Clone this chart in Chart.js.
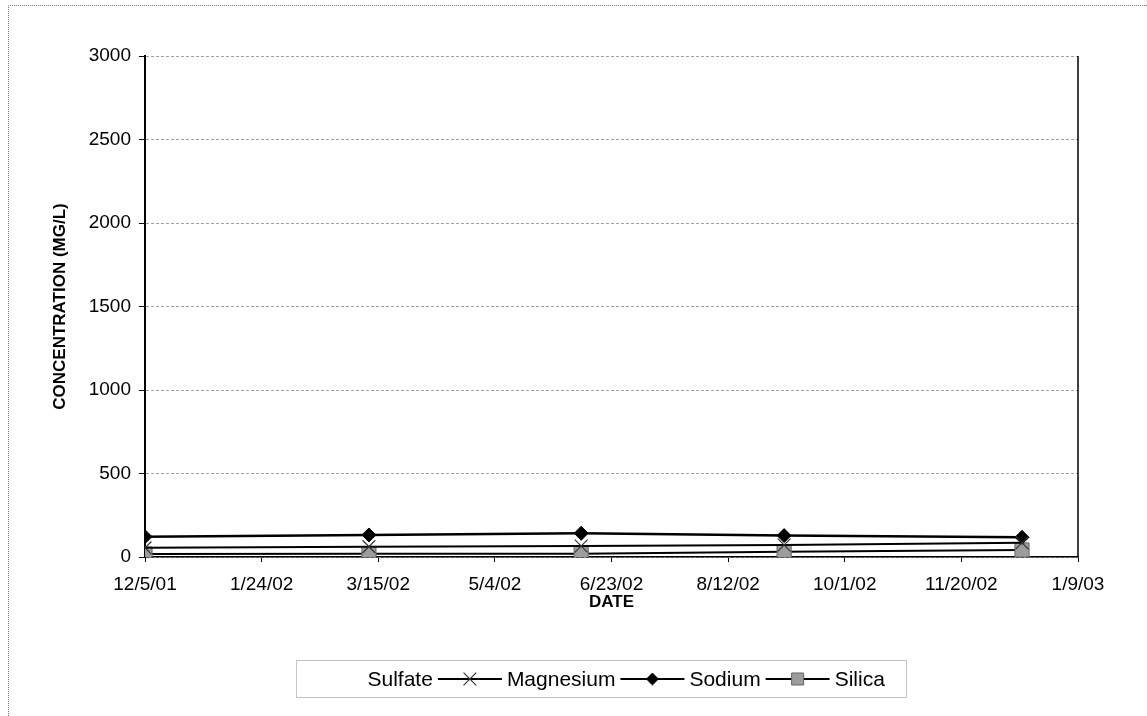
<!doctype html>
<html lang="en">
<head>
<meta charset="utf-8">
<title>Concentration vs Date</title>
<script src="https://cdn.jsdelivr.net/npm/chart.js@4.4.1/dist/chart.umd.min.js"></script>
<style>
  html, body { margin: 0; padding: 0; background: #fff; }
  canvas { display: block; }
</style>
</head>
<body>
<canvas id="chart" width="1147" height="716"></canvas>
<script>
// sampling dates and concentrations (mg/L)
var sampleDates = ['12/5/01', '3/11/02', '6/10/02', '9/5/02', '12/16/02'];
var sulfate   = [];
var magnesium = [55, 62, 66, 72, 85];
var sodium    = [122, 132, 142, 128, 118];
var silica    = [18, 20, 20, 32, 42];

var yTicks = [0, 500, 1000, 1500, 2000, 2500, 3000];
var startDate = '12/5/01';
var endDate = '1/9/03';
var dayStep = 50;

var FONT = "'Liberation Sans', Arial, sans-serif";

function toUTC(s) {
    var p = s.split('/');
    return Date.UTC(2000 + Number(p[2]), Number(p[0]) - 1, Number(p[1]));
}
var t0 = toUTC(startDate);
function dayNum(s) { return Math.round((toUTC(s) - t0) / 86400000); }
function dayLabel(v) {
    var d = new Date(t0 + v * 86400000);
    return (d.getUTCMonth() + 1) + '/' + d.getUTCDate() + '/' + String(d.getUTCFullYear() % 100).padStart(2, '0');
}
function pts(values) {
    return values.map(function (v, i) { return { x: dayNum(sampleDates[i]), y: v }; });
}

var datasets = [{
    label: 'Sulfate',
    data: pts(sulfate),
    showLine: false,
    pointRadius: 0,
    borderWidth: 0
}, {
    label: 'Magnesium',
    data: pts(magnesium),
    borderColor: '#000',
    borderWidth: 2,
    pointStyle: 'crossRot',
    pointRadius: 9,
    pointBorderColor: '#333',
    pointBorderWidth: 1.2,
    legendScale: 1
}, {
    label: 'Sodium',
    data: pts(sodium),
    borderColor: '#000',
    borderWidth: 2.5,
    pointStyle: 'rectRot',
    pointRadius: 7,
    pointBackgroundColor: '#000',
    pointBorderColor: '#000',
    pointBorderWidth: 1,
    legendScale: 0.85
}, {
    label: 'Silica',
    data: pts(silica),
    borderColor: '#000',
    borderWidth: 2,
    pointStyle: 'rect',
    pointRadius: 10,
    pointBackgroundColor: '#9c9c9c',
    pointBorderColor: '#666',
    pointBorderWidth: 1,
    legendScale: 0.85
}];

// frame, right plot border and the boxed legend under the axis title
var decorations = {
    id: 'decorations',
    afterDraw: function (chart) {
        var ctx = chart.ctx, a = chart.chartArea;
        ctx.save();
        ctx.strokeStyle = '#777';
        ctx.lineWidth = 1;
        ctx.setLineDash([1, 1]);
        ctx.beginPath();
        ctx.moveTo(8.5, 716); ctx.lineTo(8.5, 5.5); ctx.lineTo(1147, 5.5);
        ctx.stroke();
        ctx.setLineDash([]);
        ctx.strokeStyle = '#000';
        ctx.lineWidth = 1.5;
        ctx.beginPath();
        ctx.moveTo(a.right, a.top); ctx.lineTo(a.right, a.bottom);
        ctx.stroke();

        // legend
        ctx.font = '21px ' + FONT;
        var symW = 64, gap = 5;
        var left = 296.5, right = 906.5, top = 660.5, h = 37, cy = top + h / 2;
        ctx.strokeStyle = '#888';
        ctx.lineWidth = 1;
        ctx.setLineDash([1, 1]);
        ctx.strokeRect(left, top, right - left, h);
        ctx.setLineDash([]);
        var x = left + 2;
        ctx.textBaseline = 'middle';
        ctx.textAlign = 'left';
        chart.data.datasets.forEach(function (ds) {
            if (ds.borderWidth > 0) {
                ctx.strokeStyle = ds.borderColor;
                ctx.lineWidth = 2;
                ctx.beginPath();
                ctx.moveTo(x, cy); ctx.lineTo(x + symW, cy);
                ctx.stroke();
            }
            if (ds.pointRadius > 0) {
                ctx.fillStyle = ds.pointBackgroundColor || '#000';
                ctx.strokeStyle = ds.pointBorderColor;
                ctx.lineWidth = ds.pointBorderWidth;
                Chart.helpers.drawPoint(ctx, {
                    pointStyle: ds.pointStyle,
                    radius: ds.pointRadius * ds.legendScale,
                    rotation: 0,
                    borderWidth: ds.pointBorderWidth
                }, x + symW / 2, cy);
            }
            x += symW + gap;
            ctx.fillStyle = '#000';
            ctx.fillText(ds.label, x, cy + 1);
            x += ctx.measureText(ds.label).width + gap;
        });
        ctx.restore();
    }
};

new Chart(document.getElementById('chart').getContext('2d'), {
    type: 'line',
    data: { datasets: datasets },
    options: {
        responsive: false,
        animation: false,
        layout: { padding: { left: 0, right: 69, top: 56, bottom: 99 } },
        plugins: { legend: { display: false }, tooltip: { enabled: false } },
        elements: { line: { tension: 0 } },
        scales: {
            x: {
                type: 'linear',
                min: 0,
                max: dayNum(endDate),
                afterBuildTicks: function (s) {
                    s.ticks = [];
                    for (var v = 0; v <= dayNum(endDate); v += dayStep) s.ticks.push({ value: v });
                },
                afterFit: function (s) { s.height = 60; },
                ticks: {
                    callback: function (v) { return dayLabel(v); },
                    font: { family: FONT, size: 19 },
                    color: '#000',
                    padding: 11,
                    maxRotation: 0,
                    autoSkip: false
                },
                grid: { drawOnChartArea: false, tickLength: 5, tickColor: '#000', tickWidth: 1 },
                border: { color: '#000', width: 1.5 },
                title: {
                    display: true,
                    text: 'DATE',
                    color: '#000',
                    font: { family: FONT, size: 17, weight: 'bold' },
                    padding: { top: 0, bottom: 4 }
                }
            },
            y: {
                min: yTicks[0],
                max: yTicks[yTicks.length - 1],
                afterBuildTicks: function (s) {
                    s.ticks = yTicks.map(function (v) { return { value: v }; });
                },
                afterFit: function (s) { s.width = 145; },
                ticks: {
                    callback: function (v) { return String(v); },
                    font: { family: FONT, size: 19 },
                    color: '#000',
                    padding: 8
                },
                grid: { color: '#a0a0a0', lineWidth: 1, tickLength: 6, tickColor: '#000', tickBorderDash: [] },
                border: { color: '#000', width: 2, dash: [3, 2] },
                title: {
                    display: true,
                    text: 'CONCENTRATION (MG/L)',
                    color: '#000',
                    font: { family: FONT, size: 17, weight: 'bold' },
                    padding: { top: 50, bottom: 0 }
                }
            }
        }
    },
    plugins: [decorations]
});
</script>
</body>
</html>
